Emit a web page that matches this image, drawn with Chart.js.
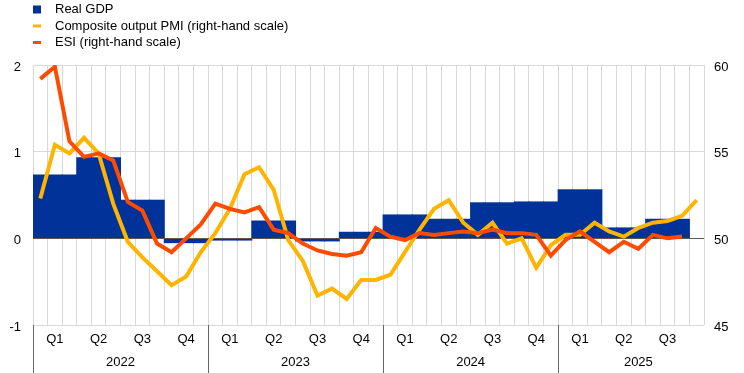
<!DOCTYPE html>
<html>
<head>
<meta charset="utf-8">
<script src="https://cdn.jsdelivr.net/npm/chart.js"></script>
<style>
  html, body { margin: 0; padding: 0; background: #fff; }
  #wrap { width: 744px; height: 373px; position: relative; }
</style>
</head>
<body>
<div id="wrap"><canvas id="chart"></canvas></div>
<script>
// data (monthly axis, Jan 2022 - Oct 2025)
const years = ['2022', '2023', '2024', '2025'];
const quarterNames = ['Q1', 'Q2', 'Q3', 'Q4'];
const monthNames = ['Jan', 'Feb', 'Mar', 'Apr', 'May', 'Jun', 'Jul', 'Aug', 'Sep', 'Oct', 'Nov', 'Dec'];
const nMonths = 46;

// real GDP, quarter-on-quarter % (left-hand scale), Q1 2022 - Q3 2025
const gdp = [0.73, 0.93, 0.44, -0.05, -0.02, 0.20, -0.03, 0.07, 0.27, 0.22, 0.41, 0.42, 0.56, 0.12, 0.22];

// composite output PMI (right-hand scale)
const pmi = [
  52.3, 55.4, 54.9, 55.8, 54.9, 52.0, 49.8, 48.9, 48.1, 47.3, 47.8, 49.2,
  50.3, 51.7, 53.7, 54.1, 52.8, 49.9, 48.7, 46.7, 47.1, 46.5, 47.6, 47.6,
  47.9, 49.2, 50.5, 51.7, 52.2, 50.9, 50.2, 50.9, 49.7, 50.0, 48.3, 49.6,
  50.2, 50.2, 50.9, 50.4, 50.1, 50.6, 50.9, 51.0, 51.3, 52.2
];

// ESI (right-hand scale)
const esi = [
  59.2, 59.9, 55.6, 54.7, 54.9, 54.5, 52.1, 51.6, 49.7, 49.2, 50.0, 50.8,
  52.0, 51.7, 51.5, 51.8, 50.5, 50.3, 49.7, 49.3, 49.1, 49.0, 49.2, 50.6,
  50.1, 49.9, 50.3, 50.2, 50.3, 50.4, 50.3, 50.5, 50.3, 50.3, 50.2, 49.0,
  49.9, 50.4, 49.8, 49.2, 49.8, 49.4, 50.2, 50.0, 50.1
];

const FONT = 'Arial, "Liberation Sans", sans-serif';
const BLUE = '#003299';
const YELLOW = '#ffb400';
const ORANGE = '#ff4b00';

const labels = [];
for (let i = 0; i < nMonths; i++) {
  labels.push(monthNames[i % 12] + ' ' + years[Math.floor(i / 12)]);
}
// quarterly GDP shown over the three months of its quarter
const gdpMonthly = labels.map((l, i) => {
  const v = gdp[Math.floor(i / 3)];
  return v === undefined ? null : v;
});

const legendItems = [
  { text: 'Real GDP', color: BLUE, kind: 'box' },
  { text: 'Composite output PMI (right-hand scale)', color: YELLOW, kind: 'line' },
  { text: 'ESI (right-hand scale)', color: ORANGE, kind: 'line' }
];

const decor = {
  id: 'decor',
  afterDatasetDraw(chart, args) {
    // dark zero line over the bars, under the lines
    if (args.meta.type !== 'bar') return;
    const { ctx, chartArea } = chart;
    const y0 = Math.round(chart.scales.y.getPixelForValue(0)) + 0.5;
    ctx.save();
    ctx.strokeStyle = '#595959';
    ctx.lineWidth = 1;
    ctx.beginPath();
    ctx.moveTo(chartArea.left, y0);
    ctx.lineTo(chartArea.right, y0);
    ctx.stroke();
    ctx.restore();
  },
  afterDraw(chart) {
    const { ctx, chartArea } = chart;
    const xs = chart.scales.x;
    ctx.save();
    ctx.font = '13px ' + FONT;
    ctx.fillStyle = '#000';
    ctx.textAlign = 'center';
    ctx.textBaseline = 'middle';

    // quarter labels under the middle month of each quarter
    for (let m = 1; m < nMonths; m += 3) {
      ctx.fillText(quarterNames[Math.floor(m / 3) % 4], xs.getPixelForValue(m), 339);
    }
    // year labels and separators
    ctx.strokeStyle = '#666';
    ctx.lineWidth = 1;
    years.forEach((yr, k) => {
      const first = k * 12;
      const mid = (first + Math.min(first + 11, nMonths)) / 2;
      ctx.fillText(yr, xs.getPixelForValue(mid), 362);
      const sx = Math.round(xs.getPixelForValue(first - 0.5)) + 0.5;
      ctx.beginPath();
      ctx.moveTo(sx, chartArea.bottom);
      ctx.lineTo(sx, chart.height);
      ctx.stroke();
    });

    // legend
    ctx.textAlign = 'left';
    legendItems.forEach((it, i) => {
      const cy = 9.5 + i * 16.5;
      ctx.fillStyle = it.color;
      if (it.kind === 'box') {
        ctx.fillRect(33, cy - 4, 8, 8);
      } else {
        ctx.fillRect(33, cy - 1.5, 8, 3);
      }
      ctx.fillStyle = '#000';
      ctx.fillText(it.text, 55, cy);
    });
    ctx.restore();
  }
};

new Chart(document.getElementById('chart'), {
  data: {
    labels: labels,
    datasets: [
      {
        type: 'line',
        label: 'ESI (right-hand scale)',
        data: esi,
        yAxisID: 'y2',
        borderColor: ORANGE,
        borderWidth: 4,
        pointRadius: 0,
        tension: 0,
        order: 1
      },
      {
        type: 'line',
        label: 'Composite output PMI (right-hand scale)',
        data: pmi,
        yAxisID: 'y2',
        borderColor: YELLOW,
        borderWidth: 4,
        pointRadius: 0,
        tension: 0,
        order: 2
      },
      {
        type: 'bar',
        label: 'Real GDP',
        data: gdpMonthly,
        yAxisID: 'y',
        backgroundColor: BLUE,
        borderWidth: 0,
        barPercentage: 1,
        categoryPercentage: 1,
        inflateAmount: 0.5,
        order: 3
      }
    ]
  },
  options: {
    responsive: true,
    maintainAspectRatio: false,
    animation: false,
    layout: { padding: { top: 65, left: 0, right: 0, bottom: 0 } },
    plugins: {
      legend: { display: false },
      tooltip: { enabled: false }
    },
    scales: {
      x: {
        type: 'category',
        position: 'bottom',
        offset: true,
        grid: { offset: true, color: '#d9d9d9', drawTicks: false },
        border: { display: false },
        ticks: { display: false },
        afterFit: (s) => { s.height = 48; }
      },
      y: {
        position: 'left',
        min: -1,
        max: 2,
        ticks: { stepSize: 1, color: '#000', padding: 12, labelOffset: 2, font: { family: FONT, size: 13 } },
        grid: { color: '#d9d9d9', drawTicks: false },
        border: { display: false },
        afterFit: (s) => { s.width = 33; }
      },
      y2: {
        position: 'right',
        min: 45,
        max: 60,
        ticks: { stepSize: 5, color: '#000', padding: 10, labelOffset: 2, font: { family: FONT, size: 13 } },
        grid: { display: false, drawTicks: false },
        border: { display: false },
        afterFit: (s) => { s.width = 40; }
      }
    }
  },
  plugins: [decor]
});
</script>
</body>
</html>
